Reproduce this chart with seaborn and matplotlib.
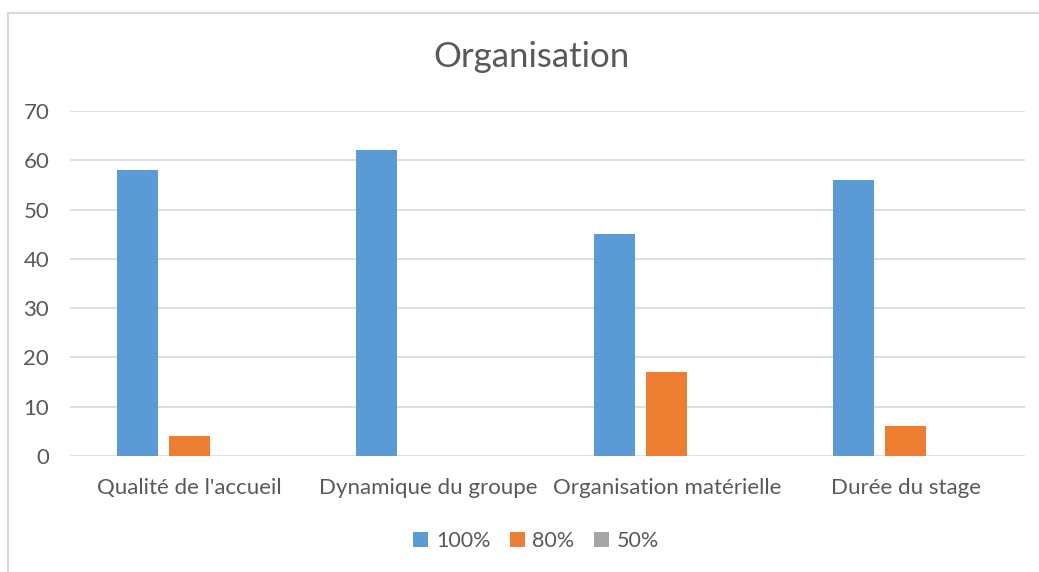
import matplotlib
matplotlib.use("Agg")
import matplotlib.pyplot as plt
from matplotlib.lines import Line2D
from matplotlib.patches import Patch
import seaborn as sns
import pandas as pd

# data
categories = ["Qualité de l'accueil", "Dynamique du groupe", "Organisation matérielle", "Durée du stage"]
series = ["100%", "80%", "50%"]
vals_100 = [58, 62, 45, 56]
vals_80 = [4, 0, 17, 6]
vals_50 = [0, 0, 0, 0]
colors = ["#5B9BD5", "#ED7D31", "#A5A5A5"]

df = pd.DataFrame({
    "cat": categories * 3,
    "serie": [s for s in series for _ in categories],
    "val": vals_100 + vals_80 + vals_50,
})

sns.set_theme(style="white")
plt.rcParams['font.family'] = ['Lato', 'DejaVu Sans']
txt = "#595959"

fig = plt.figure(figsize=(10.39, 5.72), dpi=100)
ax = fig.add_axes([70 / 1039, 1 - 456 / 572, 955 / 1039, 345 / 572])

sns.barplot(data=df, x="cat", y="val", hue="serie", hue_order=series,
            palette=colors, width=0.653, gap=0.21, ax=ax, legend=False,
            saturation=1, zorder=3, linewidth=0)

ax.set_ylim(0, 70)
ax.set_yticks(range(0, 71, 10))
ax.set_xlim(-0.5, 3.5)
ax.grid(axis="y", color="#D9D9D9", linewidth=1.2, zorder=0)
for s in ax.spines.values():
    s.set_visible(False)
ax.tick_params(axis="both", length=0, labelsize=16, colors=txt)
ax.tick_params(axis="x", pad=16)
ax.tick_params(axis="y", pad=15)
ax.set_xlabel("")
ax.set_ylabel("")

fig.text(0.512, 1 - 57 / 572, "Organisation", ha="center", va="center",
         fontsize=25, color=txt)

handles = [Patch(facecolor=c, edgecolor="none") for c in colors]
fig.legend(handles, series, loc="center", bbox_to_anchor=(0.516, 1 - 541 / 572),
           ncol=3, frameon=False, fontsize=15.5, labelcolor=txt,
           handlelength=0.7, handleheight=0.7, handletextpad=0.35, columnspacing=0.9)

# chart area border (top and left visible)
fig.add_artist(Line2D([8 / 1039, 8 / 1039], [0, 1 - 13 / 572], color="#D9D9D9", linewidth=1.5))
fig.add_artist(Line2D([8 / 1039, 1], [1 - 13 / 572, 1 - 13 / 572], color="#D9D9D9", linewidth=1.5))

fig.savefig("out.png", dpi=100, facecolor="white")
